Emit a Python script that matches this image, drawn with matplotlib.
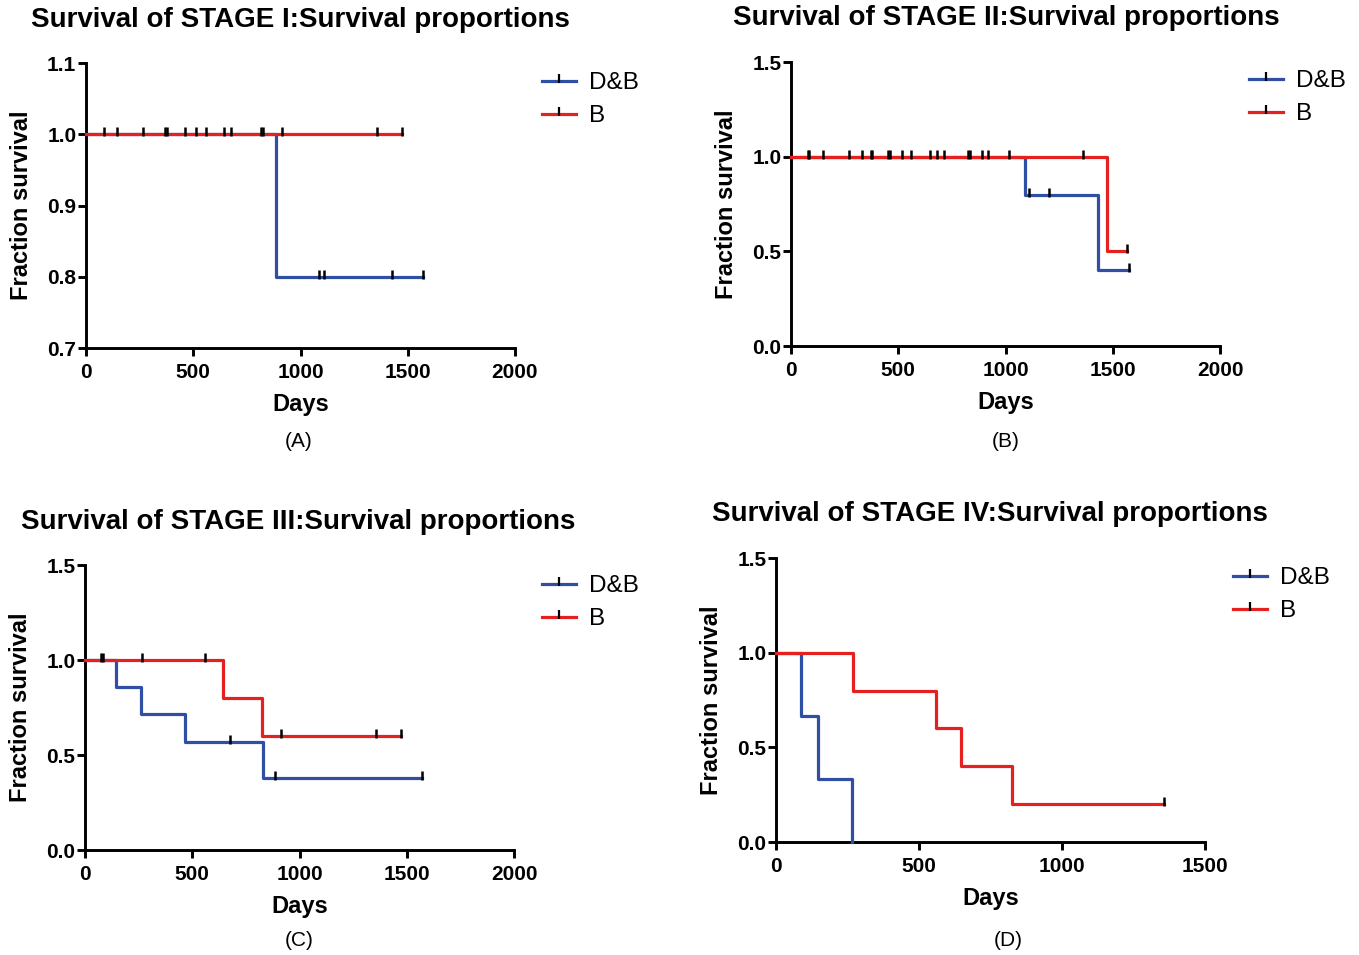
import numpy as np
import matplotlib
matplotlib.use("Agg")
import matplotlib.pyplot as plt
from matplotlib.path import Path
from matplotlib.lines import Line2D

plt.rcParams['font.family'] = ['Liberation Sans', 'DejaVu Sans']

BLUE = '#2E4FA3'
RED = '#E5201F'

# ---------------- data ----------------
titles = ["Survival of STAGE I:Survival proportions",
          "Survival of STAGE II:Survival proportions",
          "Survival of STAGE III:Survival proportions",
          "Survival of STAGE IV:Survival proportions"]
panel_tags = ["(A)", "(B)", "(C)", "(D)"]
series_names = ["D&B", "B"]

# Stage I
A_db_t = [0, 886, 1573]
A_db_s = [1.0, 0.8, 0.8]
A_db_c = [1088, 1108, 1425, 1573]
A_b_t = [0, 1472]
A_b_s = [1.0, 1.0]
A_b_c = [84, 143, 266, 368, 376, 463, 514, 558, 645, 676, 818, 826, 914, 1355, 1472]

# Stage II
B_db_t = [0, 1091, 1430, 1576]
B_db_s = [1.0, 0.8, 0.4, 0.4]
B_db_c = [1111, 1204, 1576]
B_b_t = [0, 1475, 1568]
B_b_s = [1.0, 0.5, 0.5]
B_b_c = [78, 84, 148, 270, 329, 371, 378, 453, 460, 517, 561, 648, 680, 713,
         826, 833, 889, 917, 1018, 1360, 1568]

# Stage III
C_db_t = [0, 143, 263, 465, 831, 1573]
C_db_s = [1.0, 0.857, 0.714, 0.571, 0.381, 0.381]
C_db_c = [676, 884, 1573]
C_b_t = [0, 645, 824, 1472]
C_b_s = [1.0, 0.8, 0.6, 0.6]
C_b_c = [76, 82, 266, 558, 914, 1355, 1472]

# Stage IV
D_db_t = [0, 86, 148, 265]
D_db_s = [1.0, 0.667, 0.333, 0.0]
D_db_c = []
D_b_t = [0, 268, 559, 647, 824, 1358]
D_b_s = [1.0, 0.8, 0.6, 0.4, 0.2, 0.2]
D_b_c = [1358]

xlims = [(0, 2000), (0, 2000), (0, 2000), (0, 1500)]
xticks = [[0, 500, 1000, 1500, 2000]] * 3 + [[0, 500, 1000, 1500]]
ylims = [(0.7, 1.1), (0.0, 1.5), (0.0, 1.5), (0.0, 1.5)]
yticks = [[0.7, 0.8, 0.9, 1.0, 1.1], [0.0, 0.5, 1.0, 1.5],
          [0.0, 0.5, 1.0, 1.5], [0.0, 0.5, 1.0, 1.5]]

data = [
    ((A_db_t, A_db_s, A_db_c), (A_b_t, A_b_s, A_b_c)),
    ((B_db_t, B_db_s, B_db_c), (B_b_t, B_b_s, B_b_c)),
    ((C_db_t, C_db_s, C_db_c), (C_b_t, C_b_s, C_b_c)),
    ((D_db_t, D_db_s, D_db_c), (D_b_t, D_b_s, D_b_c)),
]

# ---------------- layout (pixels) ----------------
W, H = 1359, 955
fig = plt.figure(figsize=(W / 100, H / 100), dpi=100)

# left, right, top, bottom of each axes in pixels
boxes = [(86, 515, 63, 348), (791, 1220, 62, 346),
         (85, 514, 565, 850), (776, 1205, 558, 842)]
title_pos = [(300, 20), (1006, 18), (298, 522), (990, 514)]
tag_pos = [(299, 441), (1006, 441), (299, 940), (1008, 940)]
legend_pos = [(542, 72), (1249, 70), (542, 575), (1233, 567)]

tick_marker = Path([(0, -0.3), (0, 1.0)], [Path.MOVETO, Path.LINETO])


def surv_at(t_arr, s_arr, x):
    t_arr = np.asarray(t_arr)
    s_arr = np.asarray(s_arr)
    idx = np.searchsorted(t_arr, x, side='right') - 1
    return s_arr[np.clip(idx, 0, len(s_arr) - 1)]


for i in range(4):
    l, r, t, b = boxes[i]
    ax = fig.add_axes([l / W, 1 - b / H, (r - l) / W, (b - t) / H])
    for (tt, ss, cc), col in zip(data[i], [BLUE, RED]):
        ax.step(tt, ss, where='post', color=col, lw=2.3, clip_on=False, zorder=3)
        if len(cc):
            cy = surv_at(tt, ss, np.asarray(cc))
            ax.plot(cc, cy, linestyle='none', marker=tick_marker, markersize=10,
                    markeredgecolor='black', markeredgewidth=1.8, clip_on=False, zorder=4)
    ax.set_xlim(*xlims[i])
    ax.set_ylim(*ylims[i])
    ax.set_xticks(xticks[i])
    ax.set_yticks(yticks[i])
    ax.set_xticklabels([str(v) for v in xticks[i]])
    ax.set_yticklabels([f"{v:.1f}" for v in yticks[i]])
    for s in ['top', 'right']:
        ax.spines[s].set_visible(False)
    for s in ['left', 'bottom']:
        ax.spines[s].set_linewidth(2.1)
        ax.spines[s].set_color('black')
    ax.tick_params(axis='both', direction='out', length=6, width=2.1, color='black',
                   labelsize=15)
    ax.tick_params(axis='x', pad=5)
    ax.tick_params(axis='y', pad=1)
    for lab in ax.get_xticklabels() + ax.get_yticklabels():
        lab.set_fontweight('bold')
    ax.set_xlabel("Days", fontsize=17, fontweight='bold')
    ax.set_ylabel("Fraction survival", fontsize=17, fontweight='bold')
    # xlabel top ~45 px below the x axis, ylabel right edge ~53 px left of y axis
    ax.xaxis.set_label_coords(0.5, -45 / (b - t))
    ax.yaxis.set_label_coords(-53 / (r - l), 0.5)

    handles = [Line2D([], [], color=c, lw=2.3, marker=tick_marker, markersize=10,
                      markeredgecolor='black', markeredgewidth=1.6)
               for c in [BLUE, RED]]
    lx, ly = legend_pos[i]
    ax.legend(handles, series_names, loc='upper left',
              bbox_to_anchor=(lx / W, 1 - ly / H), bbox_transform=fig.transFigure,
              frameon=False, fontsize=17.5, handlelength=1.4, handletextpad=0.55,
              labelspacing=0.47, numpoints=1, borderpad=0, borderaxespad=0)

    fig.text(title_pos[i][0] / W, 1 - title_pos[i][1] / H, titles[i], ha='center',
             va='center', fontsize=20, fontweight='bold')
    fig.text(tag_pos[i][0] / W, 1 - tag_pos[i][1] / H, panel_tags[i], ha='center',
             va='center', fontsize=15)

fig.savefig("out.png", dpi=100)
